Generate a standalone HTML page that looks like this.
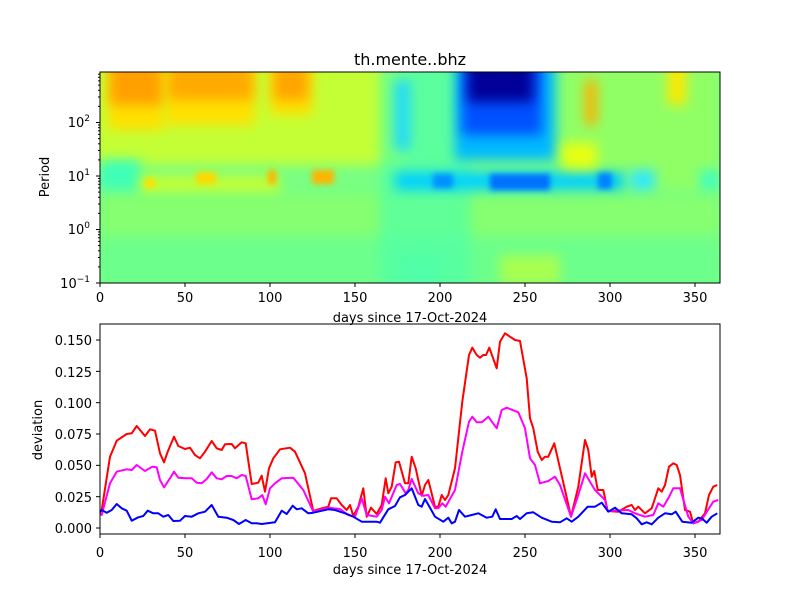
<!DOCTYPE html>
<html><head><meta charset="utf-8"><style>
html,body{margin:0;padding:0;background:#fff;}
#hm{position:absolute;left:100px;top:72px;width:620px;height:211px;overflow:hidden;background:#78ff84;}
#hm div{position:absolute;}
.b6{filter:blur(6px);}
.b3{filter:blur(3px);}
svg{display:block;position:absolute;left:0;top:0;font-family:"DejaVu Sans","Liberation Sans",sans-serif;}
</style></head><body>
<div id="hm">
<div class="b6" style="left:-10px;top:-12px;width:315px;height:105px;background:#c4ff36"></div>
<div class="b6" style="left:0;top:123px;width:620px;height:40px;background:#86ff70"></div>
<div class="b6" style="left:0;top:168px;width:620px;height:45px;background:#6cff8c"></div>
<div class="b6" style="left:280px;top:-12px;width:90px;height:230px;background:rgba(80,255,168,0.7)"></div>
<div class="b6" style="left:460px;top:-12px;width:160px;height:130px;background:#90ff66"></div>
<div class="b6" style="left:0;top:88px;width:40px;height:30px;background:#40ffb8"></div>
<div class="b6" style="left:8px;top:-12px;width:56px;height:70px;background:#ffe000"></div>
<div class="b6" style="left:65px;top:-12px;width:90px;height:65px;background:#ffe000"></div>
<div class="b6" style="left:170px;top:-12px;width:42px;height:55px;background:#ffe000"></div>
<div class="b6" style="left:10px;top:-12px;width:52px;height:45px;background:#ffa000"></div>
<div class="b6" style="left:68px;top:-12px;width:85px;height:40px;background:#ffaa00"></div>
<div class="b6" style="left:174px;top:-7px;width:34px;height:35px;background:#ffa400"></div>
<div class="b6" style="left:40px;top:104px;width:140px;height:16px;background:#c8ff30"></div>
<div class="b6" style="left:295px;top:8px;width:15px;height:70px;background:#20d8ff"></div>
<div class="b6" style="left:355px;top:-22px;width:100px;height:110px;background:#00b8ff"></div>
<div class="b6" style="left:362px;top:-17px;width:80px;height:80px;background:#0050ff"></div>
<div class="b6" style="left:368px;top:-12px;width:65px;height:42px;background:#000098"></div>
<div class="b6" style="left:295px;top:100px;width:230px;height:18px;background:#00d0ff"></div>
<div class="b6" style="left:485px;top:8px;width:12px;height:45px;background:#ffb000"></div>
<div class="b6" style="left:462px;top:71px;width:35px;height:25px;background:#e8ff10"></div>
<div class="b6" style="left:568px;top:-12px;width:18px;height:45px;background:#ffe800"></div>
<div class="b6" style="left:530px;top:98px;width:25px;height:20px;background:#30e8ff"></div>
<div class="b6" style="left:600px;top:98px;width:20px;height:20px;background:#40ffc0"></div>
<div class="b6" style="left:300px;top:183px;width:40px;height:30px;background:#50ffa8"></div>
<div class="b6" style="left:400px;top:183px;width:60px;height:30px;background:#a8ff50"></div>
<div class="b3" style="left:390px;top:102px;width:60px;height:16px;background:#0070ff"></div>
<div class="b3" style="left:333px;top:102px;width:20px;height:14px;background:#0090ff"></div>
<div class="b3" style="left:498px;top:101px;width:14px;height:16px;background:#0080ff"></div>
<div class="b3" style="left:212px;top:98px;width:22px;height:14px;background:#ffb400"></div>
<div class="b3" style="left:168px;top:98px;width:8px;height:14px;background:#ffb400"></div>
<div class="b3" style="left:96px;top:100px;width:20px;height:12px;background:#ffd800"></div>
<div class="b3" style="left:45px;top:106px;width:10px;height:10px;background:#ffe000"></div>
</div>
<svg id="s" width="800" height="600" viewBox="0 0 800 600" xmlns="http://www.w3.org/2000/svg">
<rect x="100" y="72" width="620" height="211" fill="none" stroke="#000" stroke-width="1"/>
<g id="tt" stroke="#000" stroke-width="1"></g>
<text x="410" y="65" font-size="16" text-anchor="middle">th.mente..bhz</text>
<g font-size="13" text-anchor="middle">
<text x="100" y="302">0</text><text x="185" y="302">50</text><text x="270" y="302">100</text><text x="355" y="302">150</text><text x="440" y="302">200</text><text x="525" y="302">250</text><text x="610" y="302">300</text><text x="695" y="302">350</text>
<text x="410" y="322">days since 17-Oct-2024</text>
<text x="100" y="557">0</text><text x="185" y="557">50</text><text x="270" y="557">100</text><text x="355" y="557">150</text><text x="440" y="557">200</text><text x="525" y="557">250</text><text x="610" y="557">300</text><text x="695" y="557">350</text>
<text x="410" y="574">days since 17-Oct-2024</text>
</g>
<g font-size="13" text-anchor="end">
<text x="90" y="288">10<tspan font-size="9" dy="-6">−1</tspan></text>
<text x="90" y="234">10<tspan font-size="9" dy="-6">0</tspan></text>
<text x="90" y="181">10<tspan font-size="9" dy="-6">1</tspan></text>
<text x="90" y="127">10<tspan font-size="9" dy="-6">2</tspan></text>
<text x="92" y="533">0.000</text><text x="92" y="502">0.025</text><text x="92" y="470">0.050</text><text x="92" y="439">0.075</text><text x="92" y="408">0.100</text><text x="92" y="377">0.125</text><text x="92" y="345">0.150</text>
</g>
<text transform="translate(49,177) rotate(-90)" font-size="13" text-anchor="middle">Period</text>
<text transform="translate(42,430) rotate(-90)" font-size="13" text-anchor="middle">deviation</text>
<g fill="none" stroke-width="2" stroke-linejoin="round">
<polyline stroke="#ff0000" points="100,512 101.7,510 110,456.7 116.7,440.7 126.7,434 131.7,433.3 136.7,426 145,436 150,429.3 155,430.7 160,453.3 164,462.3 167.7,451.7 174,436.7 178.3,446 185,449 190,447.7 195,455 200,458.3 205,451.7 211.7,441 216.7,448.3 221.7,450 225,444.3 231.7,444 235,448.3 241.7,442.3 245.7,443.3 251.7,484 258.3,482.7 261.7,475.7 265,491.7 269,468.3 273.3,458.3 280,449.3 290,447.7 295,451.7 305,473.3 313.3,511 321.7,508.3 328.3,506.7 331,498.3 336.7,498.3 341.7,505 346.7,510 350,505 353.3,516 358.3,506.7 363.3,488.3 366.7,516.7 371,507.7 376.7,514 381.7,505 385.7,478.3 388.3,493.3 391.7,486.7 395.7,462.3 399,461.7 405,483.3 408.3,483.3 411.7,456.7 415.7,468.3 421.7,495.7 425,485 428.3,480 435,506.7 438.3,506.7 441.7,495 445,500 448.3,495 455,468.3 462.3,401.7 469,355 472.3,347.7 476.7,355 480,357.7 483.3,355 486,355 489.3,347.7 496.7,368.3 500,341.7 505,333.3 510,336.7 515,340 520,341 526.7,378.3 530,418.3 533.3,428.3 537.7,451.7 541.7,460 545,456.7 548.3,456.7 554.3,443.3 560,468.3 565,490 571,516.7 578.3,486.7 585,440 588.3,450 591.7,476.7 594.3,471 597.7,490 603.3,490 607.7,511 618.3,511.7 626.7,506.7 631.7,505 635,510 638.3,506.7 645,513.3 651.7,508.3 658.3,488.3 661.7,491.7 665,485 669,466.7 673.3,463.3 676.7,465 680,475 685,510 690,511.7 693.3,523.3 698.3,521.7 705,513.3 709,495 713.3,486.7 717.3,485"/>
<polyline stroke="#ff00ff" points="100,513 101.7,515 110,483.3 116.7,471.7 126.7,469.3 131.7,470 136.7,465 145,471 152.3,466.7 156.7,467.3 160,480 164,487.3 170,478.3 174,471.7 178.3,477.7 186.7,478.3 191.7,478.3 196.7,482.7 201.7,483.3 206.7,479 211.7,472.3 216.7,478.3 221.7,479.3 226.7,476 231.7,476 236.7,478.3 241.7,475 245.7,476 251.7,499.3 258.3,498.3 262.3,495 265.7,504.3 270,488.3 275,483.3 281.7,478.3 293.3,477.7 303.3,490 313.3,511.7 328.3,507.7 340,509 348.3,515 355,516.7 361.7,498.3 366.7,515 376.7,516.7 381.7,510 385,496.7 389,503.3 396.7,485 400,484 405.7,493.3 408.3,490 411.7,479 418.3,493.3 423.3,495.7 428.3,495 435,508.3 438.3,508.3 442.3,503.3 445.7,506.7 455,490 462.3,451.7 469,421.7 472.3,416.7 476.7,422.3 481.7,422.3 488.3,416.7 496.7,428.3 501.7,410 506.7,407.7 518.3,412.3 525,428.3 530,458.3 535,465 540,483.3 548.3,481 555,476.7 560,485 571,516.7 578.3,495 585,473.3 590,481.7 595,490 605,500 607.7,511 628.3,510 635,513.3 645,516.7 653.3,515 658.3,503.3 663.3,506.7 668.3,498.3 673.3,488.3 680,488.3 688.3,516.7 693.3,523.3 701.7,520 709,508.3 713.3,501.7 718.3,500"/>
<polyline stroke="#0000ff" points="100,512 101.7,510 106.7,512.7 111.7,510 116.7,504 121.7,508.3 126.7,510.7 131.7,520.7 138.3,517.3 143.3,516 147.7,510.7 153.3,513.3 158.3,513.3 163.3,516.7 168.3,515 173.3,521 180,520.7 185,516 191.7,516.7 198.3,513.3 205,511.7 211.7,505 218.3,516.7 226.7,517.7 233.3,520 239,524 245.7,520 251.7,523.3 256.7,523.3 261.7,524 275,522.3 281.7,510.7 286.7,514 292.7,505.7 296.7,509.3 301.7,508.3 308.3,513.3 313.3,512.7 328.3,509.3 335,510 345,513.3 353.3,516.7 361.7,521.7 376.7,521.7 380,522.7 388.3,509.3 395,506 400,497.3 405,495 411.7,488.3 418.3,505 421.7,506.7 425,499 430,507.7 435,516.7 443.3,521.7 448.3,517.7 451.7,523.3 455,521.7 459,510 465,516.7 471.7,515 478.3,513.3 486.7,517.7 492.3,516.7 495.7,509.3 500,519 511.7,519 516.7,516 520,519 526.7,513.3 533.3,512.3 541.7,517.7 551.7,521.7 560,522.3 566.7,518.3 571.7,521.7 578.3,516.7 587.7,506.7 595,506.7 601.7,502.7 608.3,511.7 615,507.7 621.7,513.3 631.7,514.3 636.7,518.3 641.7,524.3 646.7,522.3 651.7,524.3 658.3,517.7 665,513.3 671.7,514.3 675.7,511.7 682.3,521.7 691.7,522.7 698.3,517.7 701.7,518.3 706.7,522.7 711.7,516.7 717.3,513.3"/>
</g>
<rect x="100" y="324" width="620" height="210" fill="none" stroke="#000" stroke-width="1"/>
</svg>
<script>
var g=document.getElementById('tt'),L=[];
function ln(a,b,c,d){L.push('<line x1="'+a+'" y1="'+b+'" x2="'+c+'" y2="'+d+'"/>');}
for(var k=0;k<8;k++){var x=100+85*k;ln(x,283,x,287);ln(x,534,x,538);}
var dec=53.5;
for(var e=-1;e<3;e++){var y0=283-(e+1)*dec;ln(96,y0,100,y0);
 for(var m=2;m<10;m++){var y=y0-Math.log10(m)*dec;if(y>=72)ln(98,y,100,y);}}
for(var i=0;i<7;i++){var y=528-i*31.33;ln(96,y,100,y);}
g.innerHTML=L.join('');
</script>
</body></html>
